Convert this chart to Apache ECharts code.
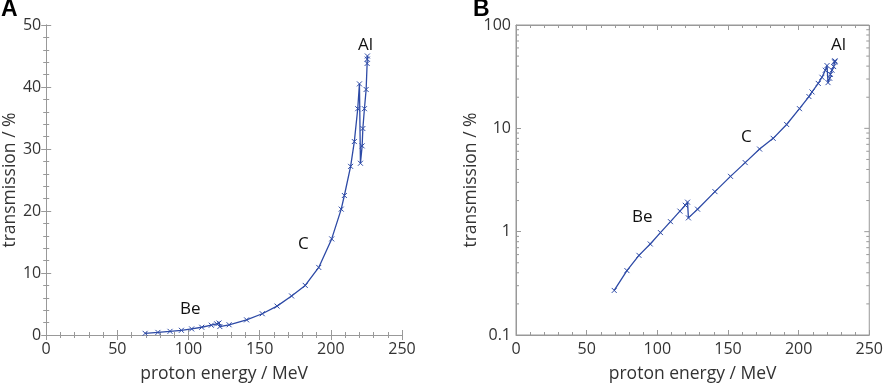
<!DOCTYPE html>
<html>
<head>
<meta charset="utf-8">
<script src="https://cdn.jsdelivr.net/npm/echarts@6/dist/echarts.min.js"></script>
<style>
  html, body { margin: 0; padding: 0; background: #fff; }
  #chart { width: 886px; height: 389px; }
</style>
</head>
<body>
<div id="chart"></div>
<script>
// proton energy (MeV) and transmission (%)
var energy = [69.5, 78.5, 87, 95, 102.2, 109.3, 116, 119.8, 121.4, 122, 128.5, 140.8,
  151.8, 162.2, 172.4, 182, 191.5, 200.6, 207.3, 209.5, 213.9, 216.5, 218.9, 220.1,
  220.8, 222, 222.5, 223.6, 224.8, 225.5, 225.6, 225.7];
var transmission = [0.27, 0.42, 0.59, 0.76, 0.98, 1.25, 1.58, 1.80, 1.93, 1.36, 1.65, 2.44,
  3.43, 4.66, 6.3, 8.0, 10.9, 15.5, 20.3, 22.5, 27.2, 31.2, 36.5, 40.5,
  27.7, 30.5, 33.3, 36.5, 39.6, 43.8, 44.5, 45.0];
var logMajorTicks = [1, 10];
var logMinorTicks = [0.2, 0.3, 0.4, 0.5, 0.6, 0.7, 0.8, 0.9, 2, 3, 4, 5, 6, 7, 8, 9, 20, 30, 40, 50, 60, 70, 80, 90];

var points = energy.map(function (e, i) { return [e, transmission[i]]; });

var blue = '#2d4aa6';
var axisGray = '#999';
var font = 'Open Sans';
var xMark = 'path://M0,0L10,10M10,0L0,10';

function xAxisPair(gridIndex) {
  return [{
    gridIndex: gridIndex, type: 'value', min: 0, max: 250, interval: 50,
    name: 'proton energy / MeV', nameLocation: 'middle', nameGap: 30,
    nameTextStyle: { fontFamily: font, fontSize: 17.5, color: '#333' },
    axisLine: { lineStyle: { color: axisGray } },
    axisTick: { inside: true, length: 5, lineStyle: { color: axisGray } },
    minorTick: { show: true, splitNumber: 5, length: 3, lineStyle: { color: axisGray } },
    axisLabel: { fontFamily: font, fontSize: 16, color: '#333', margin: 6 },
    splitLine: { show: false }
  }, {
    gridIndex: gridIndex, type: 'value', min: 0, max: 250, interval: 50, position: 'top',
    axisLine: { lineStyle: { color: axisGray } },
    axisTick: { inside: true, length: 5, lineStyle: { color: axisGray } },
    minorTick: { show: true, splitNumber: 5, length: 3, lineStyle: { color: axisGray } },
    axisLabel: { show: false },
    splitLine: { show: false }
  }];
}

var yName = {
  name: 'transmission / %', nameLocation: 'middle', nameGap: 20,
  nameTextStyle: { fontFamily: font, fontSize: 17.5, color: '#333' }
};

var yLinear = [Object.assign({
  gridIndex: 0, type: 'value', min: 0, max: 50, interval: 10,
  axisLine: { show: true, lineStyle: { color: axisGray } },
  axisTick: { show: true, inside: true, length: 5, lineStyle: { color: axisGray } },
  minorTick: { show: true, splitNumber: 5, length: 3, lineStyle: { color: axisGray } },
  axisLabel: { fontFamily: font, fontSize: 16, color: '#333', margin: 5 },
  splitLine: { show: false }
}, yName), {
  gridIndex: 0, type: 'value', min: 0, max: 50, interval: 10, position: 'right',
  axisLine: { show: true, lineStyle: { color: axisGray } },
  axisTick: { show: true, inside: true, length: 5, lineStyle: { color: axisGray } },
  minorTick: { show: true, splitNumber: 5, length: 3, lineStyle: { color: axisGray } },
  axisLabel: { show: false },
  splitLine: { show: false }
}];

var yLog = [Object.assign({
  gridIndex: 1, type: 'log', logBase: 10, min: 0.1, max: 100,
  axisLine: { show: true, lineStyle: { color: axisGray } },
  axisTick: { show: true, inside: true, length: 5, lineStyle: { color: axisGray } },
  minorTick: { show: false },
  axisLabel: { fontFamily: font, fontSize: 16, color: '#333', margin: 5,
    formatter: function (v) { return String(+v.toPrecision(3)); } },
  splitLine: { show: false }
}, yName)];

// tick marks of the log axis drawn by hand: [value, length, onLeft]
var logTickMarks = logMinorTicks.map(function (v) { return [v, 3, 1]; })
  .concat(logMinorTicks.map(function (v) { return [v, 3, 0]; }))
  .concat(logMajorTicks.map(function (v) { return [v, 5, 0]; }));

var chart = echarts.init(document.getElementById('chart'));
chart.setOption({
  animation: false,
  grid: [
    { left: 45, top: 25, width: 357, height: 310 },
    { left: 516, top: 25, width: 357, height: 310, show: true, borderColor: axisGray, borderWidth: 1 }
  ],
  xAxis: xAxisPair(0).concat(xAxisPair(1)),
  yAxis: yLinear.concat(yLog),
  series: [{
    type: 'line', xAxisIndex: 0, yAxisIndex: 0, data: points,
    symbol: xMark, symbolSize: 5, showAllSymbol: true,
    lineStyle: { color: blue, width: 1.3 },
    itemStyle: { color: blue, borderColor: blue, borderWidth: 1 }
  }, {
    type: 'line', xAxisIndex: 2, yAxisIndex: 2, data: points,
    symbol: xMark, symbolSize: 5, showAllSymbol: true,
    lineStyle: { color: blue, width: 1.3 },
    itemStyle: { color: blue, borderColor: blue, borderWidth: 1 }
  }, {
    type: 'custom', xAxisIndex: 2, yAxisIndex: 2, silent: true, clip: false, z: 10,
    encode: { y: 0 },
    data: logTickMarks,
    renderItem: function (params, api) {
      var left = api.value(2) === 1;
      var len = api.value(1);
      var p = api.coord([left ? 0 : 250, api.value(0)]);
      return {
        type: 'line',
        shape: { x1: p[0], y1: p[1], x2: p[0] + (left ? len : -len), y2: p[1] },
        style: { stroke: axisGray, lineWidth: 1 }
      };
    }
  }],
  graphic: [
    { type: 'text', left: 1, top: -2, style: { text: 'A', font: 'bold 23px "Liberation Sans"', fill: '#000' } },
    { type: 'text', left: 473, top: -2, style: { text: 'B', font: 'bold 23px "Liberation Sans"', fill: '#000' } },
    { type: 'text', left: 358, top: 37, style: { text: 'Al', font: '17px "Open Sans"', fill: '#111' } },
    { type: 'text', left: 298, top: 236, style: { text: 'C', font: '17px "Open Sans"', fill: '#111' } },
    { type: 'text', left: 180, top: 301, style: { text: 'Be', font: '17px "Open Sans"', fill: '#111' } },
    { type: 'text', left: 831, top: 37, style: { text: 'Al', font: '17px "Open Sans"', fill: '#111' } },
    { type: 'text', left: 741, top: 129, style: { text: 'C', font: '17px "Open Sans"', fill: '#111' } },
    { type: 'text', left: 632, top: 209, style: { text: 'Be', font: '17px "Open Sans"', fill: '#111' } }
  ]
});
</script>
</body>
</html>
